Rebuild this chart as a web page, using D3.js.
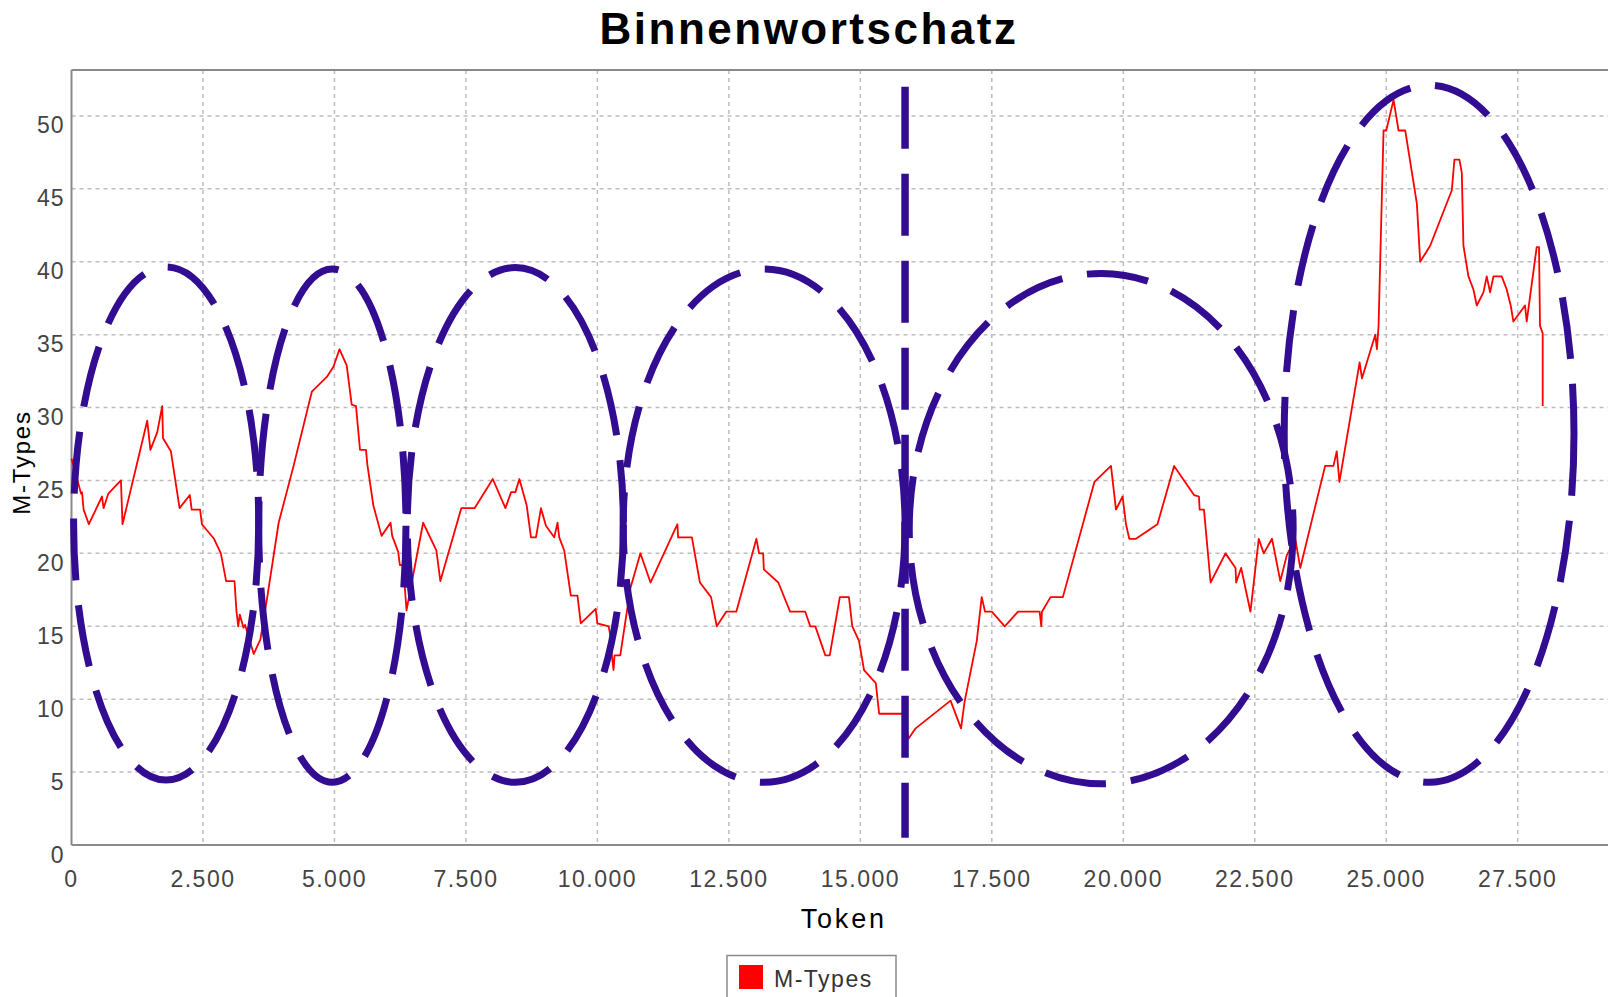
<!DOCTYPE html>
<html>
<head>
<meta charset="utf-8">
<script src="https://cdnjs.cloudflare.com/ajax/libs/d3/7.8.5/d3.min.js"></script>
<style>
  body { margin: 0; background: #ffffff; }
  svg { display: block; }
</style>
</head>
<body>
<div id="chart"></div>
<script>

//token positions of the curve and the M-Types value at each of them
var tokens = [0, 100, 180, 200, 230, 330, 580, 610, 700, 940, 970, 1440, 1500, 1630, 1725, 1740, 1890, 2055, 2250, 2285,
  2445, 2480, 2710, 2840, 2940, 3100, 3135, 3170, 3200, 3270, 3300, 3466, 3592, 3718, 3939, 4223, 4571, 4855, 4981, 5095,
  5233, 5328, 5410, 5486, 5600, 5625, 5739, 5896, 6067, 6098, 6212, 6244, 6307, 6370, 6686, 6938, 7014, 7412, 7664, 8011,
  8251, 8359, 8441, 8516, 8655, 8737, 8832, 8927, 9021, 9179, 9242, 9274, 9369, 9495, 9621, 9684, 9968, 9999, 10215, 10262,
  10275, 10307, 10326, 10435, 10627, 10818, 11010, 11522, 11534, 11797, 11950, 12161, 12270, 12449, 12641, 13024, 13075, 13152, 13165, 13440,
  13664, 13952, 14048, 14143, 14239, 14335, 14418, 14610, 14783, 14847, 14974, 15070, 15294, 15358, 15806, 15918, 16051, 16715, 16915, 16981,
  17214, 17308, 17372, 17500, 17746, 17999, 18409, 18441, 18453, 18617, 18851, 19451, 19766, 19861, 19987, 20051, 20114, 20240, 20650, 20966,
  21345, 21439, 21452, 21534, 21660, 21944, 22134, 22146, 22241, 22418, 22576, 22670, 22828, 22986, 23112, 23270, 23365, 23838, 23996, 24059,
  24110, 24494, 24538, 24791, 24823, 24854, 24949, 25000, 25139, 25234, 25361, 25582, 25646, 25835, 26247, 26297, 26392, 26437, 26468, 26563,
  26658, 26722, 26848, 26911, 26975, 27038, 27196, 27291, 27367, 27418, 27639, 27671, 27861, 27905, 27924, 27975, 27975];
var mTypes = [26.5, 25.2, 24.1, 24.2, 23.0, 22.0, 23.9, 23.1, 24.1, 25.0, 22.0, 29.1, 27.1, 28.3, 30.1, 27.9, 27.0, 23.1, 24.0, 23.0,
  23.0, 22.0, 21.0, 20.0, 18.1, 18.1, 16.1, 15.0, 15.8, 14.9, 15.1, 13.1, 14.1, 16.9, 22.1, 26.0, 31.1, 32.1, 32.8, 34.0,
  32.9, 30.2, 30.1, 27.1, 27.1, 26.1, 23.3, 21.2, 22.1, 21.2, 20.1, 19.2, 19.2, 16.1, 22.1, 20.2, 18.1, 23.1, 23.1, 25.1,
  23.1, 24.2, 24.2, 25.1, 23.3, 21.1, 21.1, 23.1, 21.9, 21.1, 22.1, 21.1, 20.2, 17.1, 17.1, 15.2, 16.2, 15.2, 15.0, 14.0,
  13.0, 12.0, 13.0, 13.0, 17.6, 20.0, 18.0, 22.0, 21.1, 21.1, 18.0, 17.0, 15.0, 16.0, 16.0, 21.0, 20.0, 20.0, 18.9, 18.0,
  16.0, 16.0, 15.0, 15.0, 14.0, 13.0, 13.0, 17.0, 17.0, 15.0, 14.0, 12.0, 11.1, 9.0, 9.0, 7.3, 8.0, 9.9, 8.0, 9.8,
  14.0, 17.0, 16.0, 16.0, 15.0, 16.0, 16.0, 15.0, 16.0, 17.0, 17.0, 24.9, 26.0, 23.0, 23.9, 22.0, 21.0, 21.0, 22.0, 26.0,
  24.0, 23.9, 23.0, 23.0, 18.0, 20.0, 19.0, 18.0, 19.0, 16.0, 21.0, 20.0, 21.0, 18.1, 19.9, 21.0, 19.0, 26.0, 26.0, 27.0,
  24.9, 33.1, 32.0, 35.0, 34.0, 35.6, 49.0, 49.0, 51.1, 49.0, 49.0, 44.0, 40.0, 41.1, 44.9, 47.0, 47.0, 46.1, 41.1, 39.0,
  38.1, 37.0, 37.9, 39.0, 37.9, 39.0, 39.0, 38.1, 37.0, 35.9, 37.0, 35.9, 41.0, 41.0, 35.6, 35.1, 30.1];

//tick values of both axes
var xTicks = [0, 2500, 5000, 7500, 10000, 12500, 15000, 17500, 20000, 22500, 25000, 27500];
var yTicks = [0, 5, 10, 15, 20, 25, 30, 35, 40, 45, 50];

//the dashed rings drawn over the curve: centre token, half width (tokens), centre value, half height
var ringTokens = [1800, 4960, 8440, 13170, 19580, 25815];
var ringHalfWidths = [1760, 1400, 2055, 2680, 3650, 2755];
var ringValues = [22.05, 21.9, 21.95, 21.9, 21.7, 28.2];
var ringHalfHeights = [17.6, 17.6, 17.65, 17.6, 17.5, 23.9];

//the dashed vertical marker
var markerToken = 15850;
var markerValues = [52, 0.5];

var drawGraph = function(){

	var width = 1608;
	var height = 997;
	var fontFamily = "'Liberation Sans', Arial, sans-serif";
	var lineColor = "#ff0000";
	var ringColor = "#330d91";
	var gridColor = "#bdbdbd";
	var axisColor = "#8a8a8a";

	//plot area; the right edge sits just outside the picture
	var left = 71.5, top = 70, right = 1616, bottom = 845;

	var svg = d3.select('#chart')
		.append('svg')
		.attr("width", width)
		.attr("height", height)
		.style('background-color', '#ffffff');

	var x = d3.scaleLinear()
		.domain([0, 29369])
		.range([left, right]);

	var y = d3.scaleLinear()
		.domain([0, 53.15])
		.range([bottom, top]);

	//german number format, 2.500 etc.
	var de = d3.formatLocale({decimal: ",", thousands: ".", grouping: [3], currency: ["", " €"]});
	var fmt = de.format(",d");

	//grid
	svg.append("g").selectAll("line")
		.data(xTicks.filter(function(d){return d > 0;}))
		.enter().append("line")
		.attr("x1", function(d){return x(d);})
		.attr("x2", function(d){return x(d);})
		.attr("y1", top)
		.attr("y2", bottom)
		.attr("stroke", gridColor)
		.attr("stroke-width", 1.5)
		.attr("stroke-dasharray", "4,4");

	svg.append("g").selectAll("line")
		.data(yTicks.filter(function(d){return d > 0;}))
		.enter().append("line")
		.attr("x1", left)
		.attr("x2", right)
		.attr("y1", function(d){return y(d);})
		.attr("y2", function(d){return y(d);})
		.attr("stroke", gridColor)
		.attr("stroke-width", 1.5)
		.attr("stroke-dasharray", "4,4");

	//frame: top border, left and bottom axis
	svg.append("line").attr("x1", left).attr("x2", right).attr("y1", top).attr("y2", top)
		.attr("stroke", axisColor).attr("stroke-width", 2);
	svg.append("line").attr("x1", left).attr("x2", left).attr("y1", top).attr("y2", bottom)
		.attr("stroke", axisColor).attr("stroke-width", 2);
	svg.append("line").attr("x1", left).attr("x2", right).attr("y1", bottom).attr("y2", bottom)
		.attr("stroke", axisColor).attr("stroke-width", 2);

	//tick labels
	svg.append("g").selectAll("text")
		.data(yTicks)
		.enter().append("text")
		.attr("x", 64.5)
		.attr("y", function(d){return y(d) + 17.5;})
		.attr("text-anchor", "end")
		.attr("font-family", fontFamily)
		.attr("font-size", 23)
		.attr("letter-spacing", 1)
		.attr("fill", "#444444")
		.text(function(d){return d;});

	svg.append("g").selectAll("text")
		.data(xTicks)
		.enter().append("text")
		.attr("x", function(d){return x(d);})
		.attr("y", 887)
		.attr("text-anchor", "middle")
		.attr("font-family", fontFamily)
		.attr("font-size", 23)
		.attr("letter-spacing", 1.5)
		.attr("fill", "#444444")
		.text(function(d){return fmt(d);});

	//the M-Types curve
	var line = d3.line()
		.x(function(d){return x(d[0]);})
		.y(function(d){return y(d[1]);});

	svg.append("path")
		.datum(d3.zip(tokens, mTypes))
		.attr("d", line)
		.attr("fill", "none")
		.attr("stroke", lineColor)
		.attr("stroke-width", 1.8)
		.attr("stroke-linejoin", "round");

	//dashed rings
	svg.append("g").selectAll("ellipse")
		.data(d3.range(ringTokens.length))
		.enter().append("ellipse")
		.attr("cx", function(i){return x(ringTokens[i]);})
		.attr("cy", function(i){return y(ringValues[i]);})
		.attr("rx", function(i){return x(ringTokens[i] + ringHalfWidths[i]) - x(ringTokens[i]);})
		.attr("ry", function(i){return y(ringValues[i] - ringHalfHeights[i]) - y(ringValues[i]);})
		.attr("fill", "none")
		.attr("stroke", ringColor)
		.attr("stroke-width", 7)
		.attr("stroke-dasharray", "62,25");

	svg.append("line")
		.attr("x1", x(markerToken))
		.attr("x2", x(markerToken))
		.attr("y1", y(markerValues[0]))
		.attr("y2", y(markerValues[1]))
		.attr("stroke", ringColor)
		.attr("stroke-width", 7.5)
		.attr("stroke-dasharray", "62,25");

	//titles
	svg.append("text")
		.attr("x", 809)
		.attr("y", 44)
		.attr("text-anchor", "middle")
		.attr("font-family", fontFamily)
		.attr("font-weight", "bold")
		.attr("font-size", 44)
		.attr("letter-spacing", 2.5)
		.attr("fill", "#000000")
		.text("Binnenwortschatz");

	svg.append("text")
		.attr("x", (left + right) / 2)
		.attr("y", 928)
		.attr("text-anchor", "middle")
		.attr("font-family", fontFamily)
		.attr("font-size", 27)
		.attr("letter-spacing", 2.8)
		.attr("fill", "#000000")
		.text("Token");

	svg.append("text")
		.attr("transform", "translate(30," + ((top + bottom) / 2 + 5) + ") rotate(-90)")
		.attr("text-anchor", "middle")
		.attr("font-family", fontFamily)
		.attr("font-size", 24)
		.attr("letter-spacing", 1.8)
		.attr("fill", "#000000")
		.text("M-Types");

	//legend, its lower part runs out of the picture
	var legend = svg.append("g");
	legend.append("rect")
		.attr("x", 727).attr("y", 955.5)
		.attr("width", 169).attr("height", 60)
		.attr("fill", "#ffffff")
		.attr("stroke", axisColor)
		.attr("stroke-width", 1.5);
	legend.append("rect")
		.attr("x", 739).attr("y", 965)
		.attr("width", 24).attr("height", 24)
		.attr("fill", lineColor);
	legend.append("text")
		.attr("x", 774).attr("y", 987)
		.attr("font-family", fontFamily)
		.attr("font-size", 23)
		.attr("letter-spacing", 1.5)
		.attr("fill", "#333333")
		.text("M-Types");
}

	//call function to draw the graph
	drawGraph();
</script>
</body>
</html>
